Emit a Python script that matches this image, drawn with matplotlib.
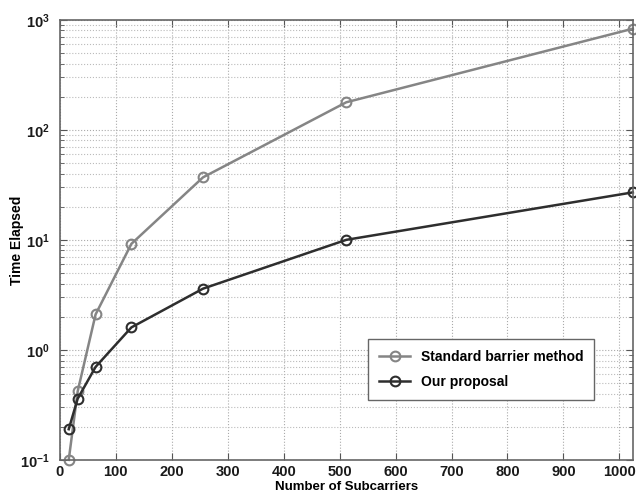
import matplotlib
matplotlib.use("Agg")
import matplotlib.pyplot as plt
from matplotlib.ticker import LogLocator, NullFormatter, MultipleLocator

# subcarrier counts and measured elapsed time (log scale)
subcarriers = [16, 32, 64, 128, 256, 512, 1024]
t_standard = [0.1, 0.42, 2.1, 9.2, 37, 178, 830]
t_proposal = [0.19, 0.36, 0.70, 1.6, 3.6, 10, 27]
labels = ["Standard barrier method", "Our proposal"]

plt.rcParams['font.family'] = ['Liberation Sans', 'DejaVu Sans']
plt.rcParams['font.weight'] = 'bold'

fig = plt.figure(figsize=(6.36, 4.95), dpi=100)
ax = fig.add_axes([0.094, 0.071, 0.901, 0.889])

ax.semilogy(subcarriers, t_standard, '-o', color='#858585', lw=1.8, ms=7,
            mfc='none', mew=1.5, label=labels[0], clip_on=False)
ax.semilogy(subcarriers, t_proposal, '-o', color='#2e2e2e', lw=1.8, ms=7,
            mfc='none', mew=1.5, label=labels[1], clip_on=False)

ax.set_xlim(0, 1024)
ax.set_ylim(0.1, 1000)
ax.xaxis.set_major_locator(MultipleLocator(100))
ax.yaxis.set_major_locator(LogLocator(base=10))
ax.yaxis.set_minor_locator(LogLocator(base=10, subs=range(2, 10)))
ax.yaxis.set_minor_formatter(NullFormatter())

ax.grid(True, which='major', ls=':', color='#aaaaaa', lw=0.8)
ax.grid(True, which='minor', axis='y', ls=':', color='#bbbbbb', lw=0.8)
ax.tick_params(which='both', direction='in', top=True, right=True,
               labelsize=10.5, color='#555555', labelcolor='#1a1a1a')
ax.tick_params(axis='x', which='major', length=5, pad=4)
ax.tick_params(axis='y', which='major', length=5, pad=7)
ax.tick_params(which='minor', length=3)
for s in ax.spines.values():
    s.set_color('#666666')
    s.set_linewidth(1.2)

ax.set_xlabel("Number of Subcarriers", fontsize=9.5, fontweight='bold')
ax.xaxis.set_label_coords(0.5, -0.047)
ax.set_ylabel("Time Elapsed", fontsize=10, fontweight='bold')
ax.yaxis.set_label_coords(-0.063, 0.5)

leg = ax.legend(loc='lower left', bbox_to_anchor=(0.526, 0.12, 0.418, 0.125),
                mode='expand', fontsize=10, fancybox=False, framealpha=1,
                edgecolor='#666666', handlelength=2.2, borderpad=0.8,
                labelspacing=0.8)
leg.get_frame().set_linewidth(1.0)

fig.savefig("out.png", dpi=100)
